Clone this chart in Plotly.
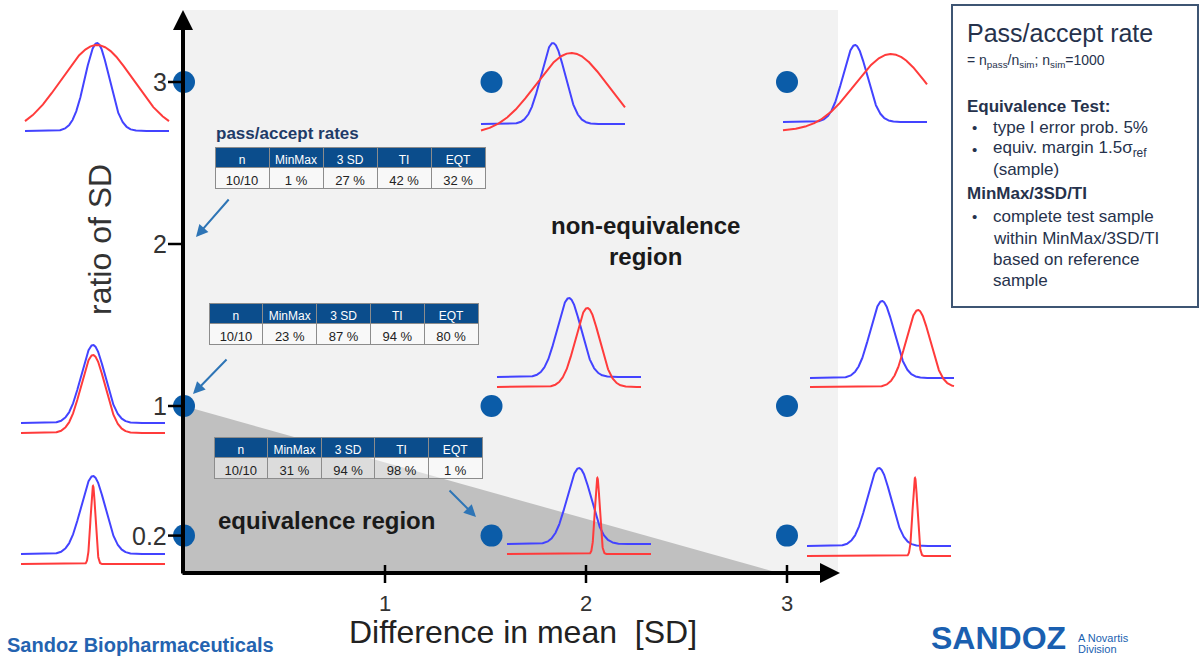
import numpy as np
import plotly.graph_objects as go

# ---------------- data ----------------
mean_diff = [0, 1.53, 3]          # difference in mean [SD] of grid points
sd_ratio = [3, 1, 0.2]            # ratio of SD of grid points
x_ticks = [1, 2, 3]
y_ticks = [3, 2, 1, 0.2]

table_cols = ["n", "MinMax", "3 SD", "TI", "EQT"]
n_label = ["10/10", "10/10", "10/10"]
rate_minmax = [1, 23, 31]
rate_3sd = [27, 87, 94]
rate_ti = [42, 94, 98]
rate_eqt = [32, 80, 1]

eq_region_x = [0, 0, 2.96]        # equivalence region triangle (x)
eq_region_top = 1.0               # ratio of SD at diff 0

# ---------------- layout helpers (pixel geometry of the slide) ----------------
W, H = 1201, 658
X0PX, XSC = 184, 201.0
Y0PX, YSC = 568, 162.0
def px2x(p): return (p - X0PX) / XSC
def px2y(p): return (Y0PX - p) / YSC

AX_Y = px2y(573)                  # x-axis line level
FONT = "Liberation Sans, Arial, sans-serif"
BLUE_DOT = "#0b5ca8"
BLUE_C = "#4343ff"
RED_C = "#ff3b3b"
NAVY = "#26324c"

# inset placement: (diff idx, ratio idx) -> (center px, baseline px, height px, red offset px)
inset_layout = {
    (0, 0): (97, 131, 88, 2),
    (0, 1): (93, 423, 78, 10),
    (0, 2): (93, 554, 78, 10),
    (1, 0): (553, 124, 81, 10),
    (1, 1): (569, 377, 79, 10),
    (1, 2): (579, 544, 76, 10),
    (2, 0): (855, 122, 77, 9),
    (2, 1): (882, 378, 77, 9),
    (2, 2): (879, 546, 78, 10),
}
SIG_PX = 12.0

fig = go.Figure()

# equivalence region triangle
fig.add_trace(go.Scatter(
    x=eq_region_x, y=[eq_region_top, AX_Y, AX_Y], fill="toself",
    fillcolor="#c0c0c0", line=dict(width=0), mode="lines",
    hoverinfo="skip", showlegend=False))

# gaussian insets
u = np.linspace(-6, 6, 801)
for i, d in enumerate(mean_diff):
    for j, r in enumerate(sd_ratio):
        cpx, bpx, hpx, opx = inset_layout[(i, j)]
        xs = px2x(cpx) + u * SIG_PX / XSC
        base = px2y(bpx)
        h = hpx / YSC
        yb = base + h * np.exp(-u ** 2 / 2)
        z = (u - d) / r
        yr = base - opx / YSC + h * np.exp(-z ** 2 / 2)
        fig.add_trace(go.Scatter(x=xs, y=yb, mode="lines",
                                 line=dict(color=BLUE_C, width=2),
                                 hoverinfo="skip", showlegend=False))
        fig.add_trace(go.Scatter(x=xs, y=yr, mode="lines",
                                 line=dict(color=RED_C, width=2),
                                 hoverinfo="skip", showlegend=False))

# grid dots
gx = [d for d in mean_diff for r in sd_ratio]
gy = [r for d in mean_diff for r in sd_ratio]
fig.add_trace(go.Scatter(x=gx, y=gy, mode="markers",
                         marker=dict(color=BLUE_DOT, size=22),
                         cliponaxis=False, hoverinfo="skip", showlegend=False))

# tables
table_boxes = [(215, 485, 147, 190), (209, 478, 303, 346), (214, 482, 437, 480)]
for k, (x0, x1, y0, y1) in enumerate(table_boxes):
    row = [n_label[k], f"{rate_minmax[k]} %", f"{rate_3sd[k]} %",
           f"{rate_ti[k]} %", f"{rate_eqt[k]} %"]
    fig.add_trace(go.Table(
        domain=dict(x=[x0 / W, x1 / W], y=[1 - y1 / H, 1 - y0 / H]),
        columnwidth=[1, 1, 1, 1, 1],
        header=dict(values=table_cols, fill_color="#0b4d8c",
                    line=dict(color="#8c8c8c", width=1),
                    font=dict(color="white", size=12, family=FONT),
                    align="center", height=20),
        cells=dict(values=[[v] for v in row],
                   fill_color="rgba(255,255,255,0.45)",
                   line=dict(color="#8c8c8c", width=1),
                   font=dict(color="#222222", size=13, family=FONT),
                   align="center", height=21),
    ))

shapes = []
# light grey non-equivalence background
shapes.append(dict(type="rect", xref="x", yref="y", layer="below",
                   x0=0, x1=px2x(838), y0=AX_Y, y1=px2y(10),
                   fillcolor="#f2f2f2", line=dict(width=0)))
# ticks
for t in x_ticks:
    shapes.append(dict(type="line", xref="x", yref="y", x0=t, x1=t,
                       y0=px2y(565), y1=px2y(583),
                       line=dict(color="black", width=2.5)))
for t in y_ticks:
    shapes.append(dict(type="line", xref="x", yref="y", x0=px2x(168), x1=px2x(184),
                       y0=t, y1=t, line=dict(color="black", width=2.5)))
# legend box
shapes.append(dict(type="rect", xref="x", yref="y",
                   x0=px2x(952), x1=px2x(1198), y0=px2y(307), y1=px2y(5),
                   fillcolor="white", line=dict(color="#3e5573", width=2)))

ann = []
def txt(text, xpx, ypx, size, color="#222222", xanchor="center", yanchor="middle",
        angle=0, bold=False):
    ann.append(dict(text=f"<b>{text}</b>" if bold else text,
                    x=px2x(xpx), y=px2y(ypx), xref="x", yref="y",
                    xanchor=xanchor, yanchor=yanchor, showarrow=False,
                    textangle=angle, font=dict(size=size, color=color, family=FONT)))

# axes with arrows
ann.append(dict(text="", x=px2x(840), y=AX_Y, ax=px2x(181), ay=AX_Y,
                xref="x", yref="y", axref="x", ayref="y", showarrow=True,
                arrowhead=2, arrowsize=1, arrowwidth=4, arrowcolor="black", standoff=0))
ann.append(dict(text="", x=0 - 1 / XSC, y=px2y(10), ax=0 - 1 / XSC, ay=px2y(575),
                xref="x", yref="y", axref="x", ayref="y", showarrow=True,
                arrowhead=2, arrowsize=1, arrowwidth=4, arrowcolor="black", standoff=0))

# tick labels
for t in x_ticks:
    ann.append(dict(text=str(t), x=t, y=px2y(603), xref="x", yref="y",
                    showarrow=False, font=dict(size=22, color="#333333", family=FONT)))
for t in y_ticks:
    ann.append(dict(text=str(t), x=px2x(169), y=t, xref="x", yref="y",
                    xanchor="right", showarrow=False,
                    font=dict(size=25, color="#333333", family=FONT)))

# titles
txt("Difference in mean  [SD]", 523, 632, 32, "#222222")
txt("ratio of SD", 100, 240, 32, "#333333", angle=-90)

# region labels
txt("non-equivalence<br>region", 645, 241, 24, "#1a1a1a", bold=True)
txt("equivalence region", 326, 520, 24, "#1a1a1a", bold=True)
txt("pass/accept rates", 214, 133, 17, "#1f3b68", xanchor="left", bold=True)

# table arrows
for (tx, ty, hx, hy) in [(230, 198, 196, 237), (228, 358, 193, 394), (448, 489, 476, 517)]:
    ann.append(dict(text="", x=px2x(hx), y=px2y(hy), ax=px2x(tx), ay=px2y(ty),
                    xref="x", yref="y", axref="x", ayref="y", showarrow=True,
                    arrowhead=2, arrowsize=1.2, arrowwidth=2, arrowcolor="#2e75b6",
                    standoff=0))

# legend box text
txt("Pass/accept rate", 965, 33, 25, NAVY, xanchor="left")
txt("= n<sub>pass</sub>/n<sub>sim</sub>; n<sub>sim</sub>=1000", 965, 61, 14, NAVY, xanchor="left")
txt("Equivalence Test:", 965, 106, 17, NAVY, xanchor="left", bold=True)
txt("•", 970, 127, 15, NAVY, xanchor="left")
txt("type I error prob. 5%", 991, 127, 17, NAVY, xanchor="left")
txt("•", 970, 149, 15, NAVY, xanchor="left")
txt("equiv. margin 1.5σ<sub>ref</sub>", 991, 149, 17, NAVY, xanchor="left")
txt("(sample)", 991, 169, 17, NAVY, xanchor="left")
txt("MinMax/3SD/TI", 965, 193, 17, NAVY, xanchor="left", bold=True)
txt("•", 970, 216, 15, NAVY, xanchor="left")
txt("complete test sample", 991, 216, 17, NAVY, xanchor="left")
txt("within MinMax/3SD/TI", 991, 238, 17, NAVY, xanchor="left")
txt("based on reference", 991, 259, 17, NAVY, xanchor="left")
txt("sample", 991, 280, 17, NAVY, xanchor="left")

# footer
txt("Sandoz Biopharmaceuticals", 5, 658, 20, "#2463b0", xanchor="left", yanchor="bottom", bold=True)
txt("SANDOZ", 929, 658, 32, "#1a5fb0", xanchor="left", yanchor="bottom", bold=True)
txt("A Novartis", 1076, 638, 11, "#1a5fb0", xanchor="left")
txt("Division", 1076, 649, 11, "#1a5fb0", xanchor="left")

fig.update_layout(
    width=W, height=H, margin=dict(l=0, r=0, t=0, b=0),
    paper_bgcolor="white", plot_bgcolor="white",
    xaxis=dict(range=[px2x(0), px2x(W)], domain=[0, 1], visible=False, fixedrange=True),
    yaxis=dict(range=[px2y(H), px2y(0)], domain=[0, 1], visible=False, fixedrange=True),
    shapes=shapes, annotations=ann, showlegend=False,
    font=dict(family=FONT),
)
fig.write_html("out.html")
